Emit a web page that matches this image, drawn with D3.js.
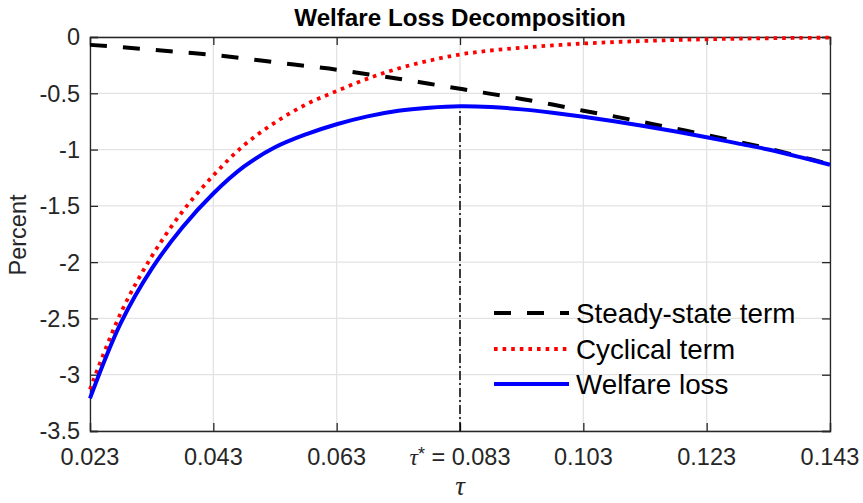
<!DOCTYPE html>
<html>
<head>
<meta charset="utf-8">
<script src="https://cdn.jsdelivr.net/npm/d3@7"></script>
<style>
  html, body { margin: 0; padding: 0; background: #fff; }
  svg { display: block; font-family: "Liberation Sans", Arial, Helvetica, sans-serif; }
</style>
</head>
<body>
<svg id="chart" width="863" height="503"></svg>
<script>
// ---- data ----
const tau = [0.023,0.028,0.033,0.038,0.043,0.048,0.053,0.058,0.063,0.068,0.073,0.078,0.083,
             0.088,0.093,0.098,0.103,0.108,0.113,0.118,0.123,0.128,0.133,0.138,0.143];
const steadyState = [-0.07,-0.09,-0.113,-0.136,-0.16,-0.19,-0.225,-0.257,-0.29,-0.33,-0.37,-0.415,-0.46,
                     -0.505,-0.55,-0.6,-0.655,-0.705,-0.76,-0.815,-0.87,-0.93,-0.99,-1.06,-1.13];
const cyclical = [-3.13,-2.45,-1.95,-1.55,-1.23,-0.96,-0.76,-0.60,-0.48,-0.37,-0.28,-0.21,-0.155,
                  -0.12,-0.095,-0.075,-0.058,-0.045,-0.035,-0.027,-0.02,-0.015,-0.011,-0.008,-0.006];
const welfare = [-3.21,-2.54,-2.06,-1.69,-1.39,-1.15,-0.98,-0.865,-0.775,-0.705,-0.655,-0.628,-0.615,
                 -0.622,-0.643,-0.673,-0.708,-0.748,-0.793,-0.84,-0.89,-0.945,-1.0,-1.065,-1.135];
const tauStar = 0.083;
const xTicks = [0.023,0.043,0.063,0.083,0.103,0.123,0.143];
const xTickLabels = ["0.023","0.043","0.063","τ*","0.103","0.123","0.143"];
const yTicks = [0,-0.5,-1,-1.5,-2,-2.5,-3,-3.5];
const yTickLabels = ["0","-0.5","-1","-1.5","-2","-2.5","-3","-3.5"];
const seriesNames = ["Steady-state term","Cyclical term","Welfare loss"];
const titleText = "Welfare Loss Decomposition";
const yLabelText = "Percent";

// ---- layout ----
const svg = d3.select("#chart");
const L = 90, R = 830, T = 37, B = 431;
const x = d3.scaleLinear().domain([0.023, 0.143]).range([L, R]);
const y = d3.scaleLinear().domain([-3.5, 0]).range([B, T]);
const axisColor = "#262626";
const tickLen = 8;

// grid
const grid = svg.append("g");
grid.selectAll(".gx").data(xTicks).enter().append("line")
  .attr("x1", d => x(d)).attr("x2", d => x(d)).attr("y1", T).attr("y2", B)
  .attr("stroke", "#e3e3e3").attr("stroke-width", 1.3);
grid.selectAll(".gy").data(yTicks).enter().append("line")
  .attr("x1", L).attr("x2", R).attr("y1", d => y(d)).attr("y2", d => y(d))
  .attr("stroke", "#e3e3e3").attr("stroke-width", 1.3);

// axes (d3 axes with inward ticks, box on)
const fs = 23.5;
const xAxisB = d3.axisBottom(x).tickValues(xTicks).tickSize(-tickLen).tickFormat("");
const xAxisT = d3.axisTop(x).tickValues(xTicks).tickSize(-tickLen).tickFormat("");
const yAxisL = d3.axisLeft(y).tickValues(yTicks).tickSize(-tickLen).tickFormat("");
const yAxisR = d3.axisRight(y).tickValues(yTicks).tickSize(-tickLen).tickFormat("");
function styleAxis(g) {
  g.selectAll("path").attr("stroke", axisColor).attr("stroke-width", 1.3);
  g.selectAll("line").attr("stroke", axisColor).attr("stroke-width", 1.3);
}
svg.append("g").attr("transform", `translate(0,${B})`).call(xAxisB).call(styleAxis);
svg.append("g").attr("transform", `translate(0,${T})`).call(xAxisT).call(styleAxis);
svg.append("g").attr("transform", `translate(${L},0)`).call(yAxisL).call(styleAxis);
svg.append("g").attr("transform", `translate(${R},0)`).call(yAxisR).call(styleAxis);

// y tick labels
svg.append("g").selectAll("text").data(yTicks).enter().append("text")
  .attr("x", L - 10).attr("y", d => y(d)).attr("dy", "0.36em")
  .attr("text-anchor", "end").attr("font-size", fs).attr("fill", axisColor)
  .text((d, i) => yTickLabels[i]);

// x tick labels
const xl = svg.append("g");
xTicks.forEach((d, i) => {
  const t = xl.append("text").attr("x", x(d)).attr("y", 465)
    .attr("text-anchor", "middle").attr("font-size", fs).attr("fill", axisColor);
  if (xTickLabels[i] === "τ*") {
    t.append("tspan").attr("font-family", "'Liberation Serif', 'DejaVu Serif', serif")
      .attr("font-style", "italic").text("τ");
    t.append("tspan").attr("font-size", 18).attr("dy", -5).text("*");
    t.append("tspan").attr("dy", 5).text(" = " + d3.format(".3f")(d));
  } else {
    t.text(xTickLabels[i]);
  }
});

// axis labels and title
svg.append("text").attr("x", (L + R) / 2).attr("y", 495)
  .attr("text-anchor", "middle").attr("font-size", 27)
  .attr("font-family", "'Liberation Serif', 'DejaVu Serif', serif")
  .attr("font-style", "italic").attr("fill", axisColor).text("τ");
svg.append("text").attr("transform", `translate(26,${(T + B) / 2 + 1}) rotate(-90)`)
  .attr("text-anchor", "middle").attr("font-size", fs).attr("fill", axisColor).text(yLabelText);
svg.append("text").attr("x", (L + R) / 2).attr("y", 26)
  .attr("text-anchor", "middle").attr("font-size", 24.2).attr("font-weight", "bold")
  .attr("fill", "#000").text(titleText);

// vertical line at tau*
const iStar = tau.indexOf(tauStar);
svg.append("line").attr("x1", x(tauStar)).attr("x2", x(tauStar))
  .attr("y1", y(-3.5)).attr("y2", y(welfare[iStar]))
  .attr("stroke", "#000").attr("stroke-width", 1.5).attr("stroke-dasharray", "9,3,2,3");

// series
const line = d3.line().curve(d3.curveCatmullRom.alpha(0.5));
const styles = [
  { color: "#000000", width: 4, dash: "17,16" },
  { color: "#ff0000", width: 3.8, dash: "3.6,5" },
  { color: "#0000ff", width: 4, dash: null }
];
const seriesData = [steadyState, cyclical, welfare];
seriesData.forEach((vals, k) => {
  const pts = tau.map((t, i) => [x(t), y(vals[i])]);
  const p = svg.append("path").attr("d", line(pts)).attr("fill", "none")
    .attr("stroke", styles[k].color).attr("stroke-width", styles[k].width);
  if (styles[k].dash) p.attr("stroke-dasharray", styles[k].dash);
});

// legend (no box)
const legY = [313, 349, 384];
const lg = svg.append("g");
seriesNames.forEach((name, k) => {
  const l = lg.append("line").attr("x1", 494).attr("x2", 569).attr("y1", legY[k]).attr("y2", legY[k])
    .attr("stroke", styles[k].color).attr("stroke-width", styles[k].width);
  if (styles[k].dash) l.attr("stroke-dasharray", styles[k].dash);
  lg.append("text").attr("x", 576).attr("y", legY[k]).attr("dy", "0.36em")
    .attr("font-size", 27.8).attr("fill", "#000").text(name);
});
</script>
</body>
</html>
